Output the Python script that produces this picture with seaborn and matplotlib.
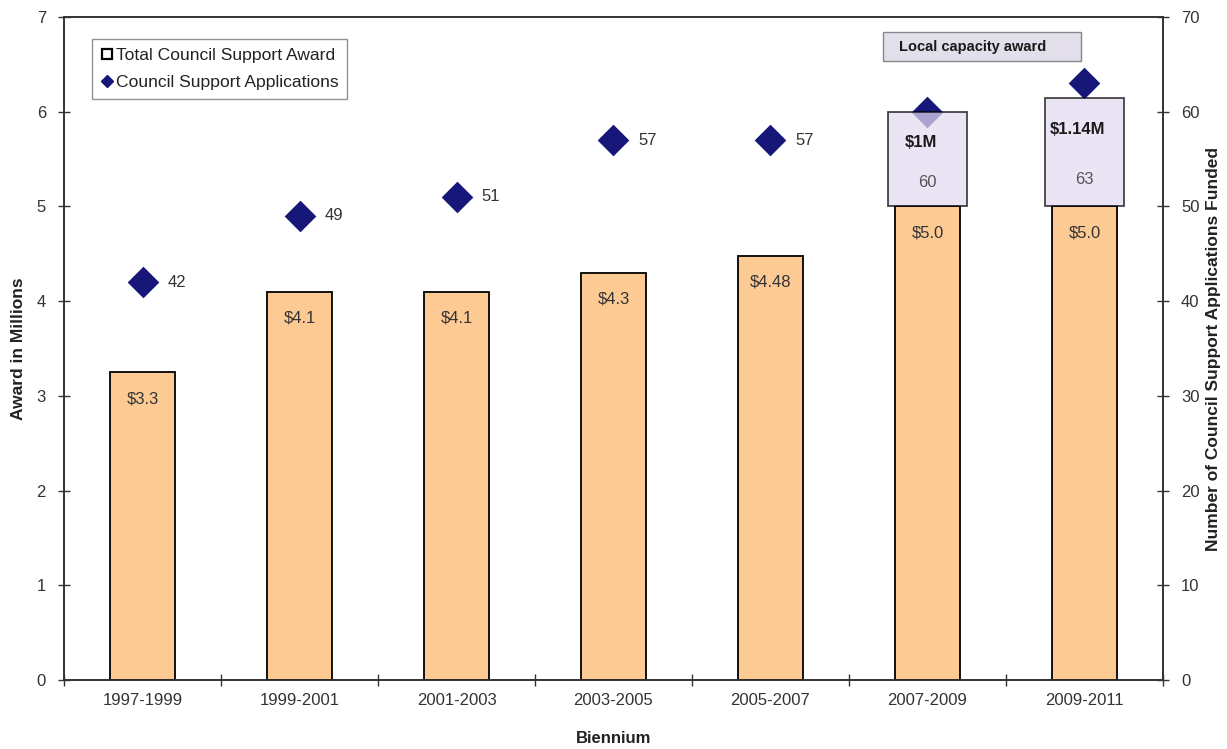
import matplotlib
matplotlib.use("Agg")
import matplotlib.pyplot as plt
from matplotlib.patches import Rectangle
from matplotlib.lines import Line2D
from matplotlib.ticker import FixedLocator
import seaborn as sns
import pandas as pd

# Council support data by biennium
biennia = ["1997-1999", "1999-2001", "2001-2003", "2003-2005",
           "2005-2007", "2007-2009", "2009-2011"]
award_millions = [3.25, 4.1, 4.1, 4.3, 4.48, 5.0, 5.0]
award_labels = ["$3.3", "$4.1", "$4.1", "$4.3", "$4.48", "$5.0", "$5.0"]
capacity_millions = [0, 0, 0, 0, 0, 1.0, 1.14]
capacity_labels = ["", "", "", "", "", "$1M", "$1.14M"]
applications = [42, 49, 51, 57, 57, 60, 63]

df = pd.DataFrame({"Biennium": biennia, "Award": award_millions,
                   "Applications": applications})

sns.set_theme(style="white")
plt.rcParams["font.family"] = ["Liberation Sans", "DejaVu Sans"]

FS = 12
TXT = "#333333"
NAVY = "#17177A"

fig = plt.figure(figsize=(12.27, 7.49), dpi=100)
ax = fig.add_axes([0.0522, 0.0921, 0.8956, 0.8852])
ax2 = ax.twinx()

# Award axis drawn above the count axis so the capacity boxes veil the diamonds
ax.set_zorder(ax2.get_zorder() + 1)
ax.patch.set_visible(False)

bar_color = "#FDCA94"
sns.barplot(data=df, x="Biennium", y="Award", ax=ax, color=bar_color,
            width=0.41, edgecolor="black", linewidth=1.3, saturation=1)

positions = list(range(len(biennia)))
for i, (base, cap) in enumerate(zip(award_millions, capacity_millions)):
    if cap > 0:
        ax.bar(i, cap, bottom=base, width=0.50, color="#E4DAF0", alpha=0.72,
               edgecolor="black", linewidth=1.3, zorder=3)

for i, (v, lab) in enumerate(zip(award_millions, award_labels)):
    ax.annotate(lab, (i, v), xytext=(0, -19), textcoords="offset points",
                ha="center", va="center", fontsize=FS, color=TXT)

for i, (base, cap, lab) in enumerate(zip(award_millions, capacity_millions,
                                         capacity_labels)):
    if cap > 0:
        ax.annotate(lab, (i, base + cap), xytext=(-5, -22), textcoords="offset points",
                    ha="center", va="center", fontsize=FS, fontweight="bold",
                    color="#1a1a1a", zorder=5)

# Applications funded, right axis
sns.scatterplot(data=df, x="Biennium", y="Applications", ax=ax2, marker="D",
                s=260, color=NAVY, edgecolor=NAVY, linewidth=0,
                legend=False, zorder=2)
for i, n in enumerate(applications):
    if capacity_millions[i] > 0:
        ax.annotate(str(n), (i, award_millions[i] + 0.25 * capacity_millions[i]),
                    ha="center", va="center", fontsize=FS, color="#555555",
                    zorder=5)
    else:
        ax2.annotate(str(n), (i, n), xytext=(18, 0), textcoords="offset points",
                     ha="left", va="center", fontsize=FS, color=TXT)

ax.set_xlim(-0.5, len(biennia) - 0.5)
ax.set_ylim(0, 7)
ax2.set_ylim(0, 70)
ax.set_yticks(range(0, 8))
ax2.set_yticks(range(0, 71, 10))

ax.set_xlabel("Biennium", fontsize=FS, fontweight="bold", color="#222222")
ax.set_ylabel("Award in Millions", fontsize=FS + 0.5, fontweight="bold",
              color="#222222")
ax2.set_ylabel("Number of Council Support Applications Funded", fontsize=FS + 0.5,
               fontweight="bold", color="#222222")
ax.xaxis.set_label_coords(0.5, -0.077)
ax.yaxis.set_label_coords(-0.035, 0.5)
ax2.yaxis.set_label_coords(1.039, 0.5)

ax.xaxis.set_minor_locator(FixedLocator([p - 0.5 for p in positions] + [len(biennia) - 0.5]))
ax.tick_params(axis="x", which="major", length=0, labelsize=FS,
               labelcolor=TXT, pad=9)
ax.tick_params(axis="x", which="minor", direction="inout", length=8,
               width=1, color="#333333", bottom=True)
ax.tick_params(axis="y", direction="inout", length=8, width=1, color="#333333",
               labelsize=FS, labelcolor=TXT, left=True, pad=9)
ax2.tick_params(axis="y", direction="inout", length=8, width=1, color="#333333",
                labelsize=FS, labelcolor=TXT, right=True, pad=9)

for a in (ax, ax2):
    for side in ("left", "right", "bottom", "top"):
        a.spines[side].set_visible(True)
        a.spines[side].set_color("#333333")
        a.spines[side].set_linewidth(1.2)
    a.grid(False)

# Label box for the stacked capacity segments
ax.add_patch(Rectangle((0.7455, 0.933), 0.18, 0.045, transform=ax.transAxes,
                       facecolor="#E2DEEA", edgecolor="#888888", linewidth=1,
                       zorder=6, clip_on=False))
ax.text(0.8265, 0.9555, "Local capacity award", transform=ax.transAxes,
        ha="center", va="center", fontsize=10.5, fontweight="bold",
        color="#1a1a1a", zorder=7)

handles = [
    Line2D([], [], linestyle="none", marker="s", markersize=7,
           markerfacecolor="white", markeredgecolor="black", markeredgewidth=1.6),
    Line2D([], [], linestyle="none", marker="D", markersize=6,
           markerfacecolor=NAVY, markeredgecolor=NAVY),
]
leg = ax.legend(handles, ["Total Council Support Award", "Council Support Applications"],
                loc="upper left", bbox_to_anchor=(0.0255, 0.967), frameon=True,
                fancybox=False, edgecolor="#777777", fontsize=12.6,
                handlelength=0.7, handletextpad=0.15, borderpad=0.5,
                labelspacing=0.7, borderaxespad=0)
leg.get_frame().set_linewidth(1)
for t in leg.get_texts():
    t.set_color("#222222")

fig.savefig("out.png", dpi=100, facecolor="white")
